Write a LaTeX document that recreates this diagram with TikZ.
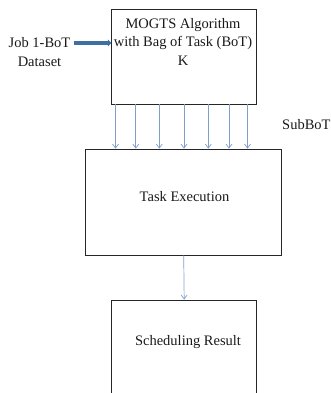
\documentclass[tikz,border=0pt]{standalone}
\usepackage{fontspec}
\setmainfont{Liberation Serif}
\usetikzlibrary{arrows.meta}
\definecolor{thinblue}{HTML}{7FA1C9}
\definecolor{thickblue}{HTML}{3E6FA3}
\tikzset{
  box/.style={draw=black!85, line width=0.8pt, inner sep=0pt},
  lbl/.style={font=\fontsize{14.5}{18.5}\selectfont, inner sep=0pt, align=center, text=black!90},
  sub/.style={draw=thinblue, line width=0.7pt, -{Straight Barb[length=4pt,width=6pt]}},
  feed/.style={draw=thickblue, line width=3.6pt, -{Triangle[length=3.5pt,width=7pt]}}
}
\begin{document}
\begin{tikzpicture}[x=1pt,y=-1pt]
\useasboundingbox (0,0) rectangle (331,393);
\clip (0,0) rectangle (331,393);
% boxes
\node[box, minimum width=145pt, minimum height=95pt] (algo) at (184.2,56.5) {};
\node[box, minimum width=196pt, minimum height=106pt] (task) at (183.7,202) {};
\node[box, minimum width=145pt, minimum height=110pt] (result) at (184.2,355) {};
% texts
\node[lbl] (algotext) at (183,41.5) {MOGTS Algorithm\\with Bag of Task (BoT)\\K};
\node[lbl] (tasktext) at (184.5,197) {Task Execution};
\node[lbl] (resulttext) at (188,342) {Scheduling Result};
\node[lbl] (job) at (39.5,52) {Job 1-BoT\\Dataset};
\node[lbl, anchor=west] (subbot) at (282,125) {SubBoT};
% input arrow
\coordinate (jobstart) at (74,43);
\draw[feed] (jobstart) -- (algo.west |- jobstart);
% SubBoT arrows
\foreach \i/\x in {1/115.5,2/135.8,3/159.3,4/184,5/208.3,6/229,7/247.5}{
  \coordinate (s\i) at (\x,0);
  \draw[sub] (algo.south -| s\i) -- (task.north -| s\i);
}
% result arrow
\draw[sub] (task.south) -- (result.north);
\end{tikzpicture}
\end{document}
